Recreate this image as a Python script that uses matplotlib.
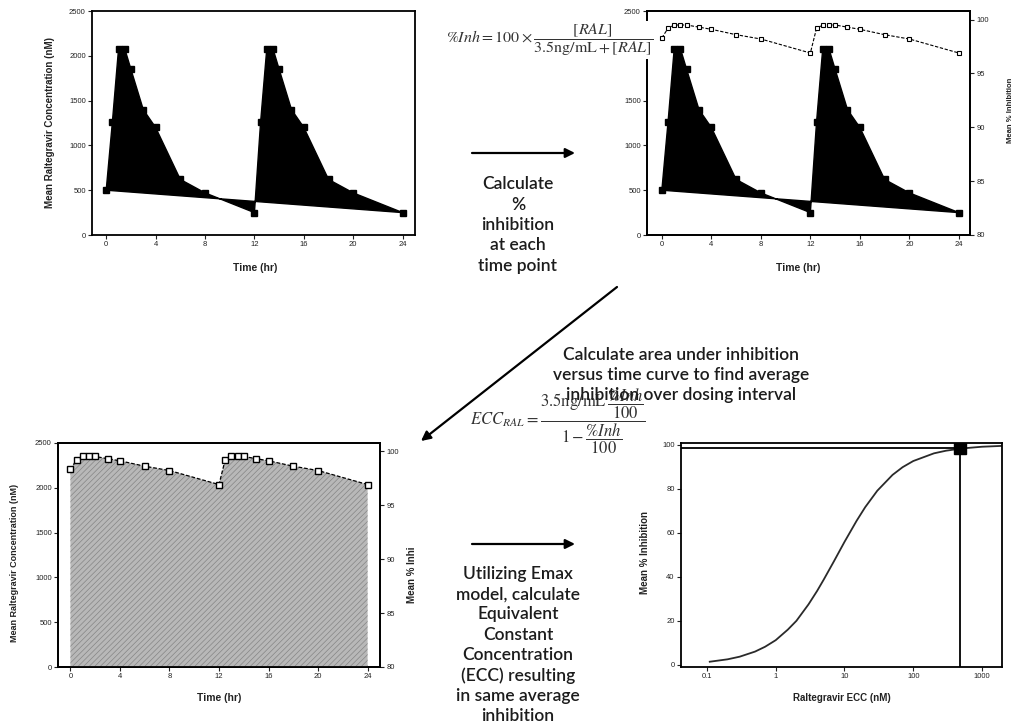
import matplotlib
matplotlib.use("Agg")
import matplotlib.pyplot as plt
from matplotlib.patches import FancyArrowPatch

# sampling times and mean concentrations over two 12 h doses
hours = [0, 0.5, 1, 1.5, 2, 3, 4, 6, 8, 12, 12.5, 13, 13.5, 14, 15, 16, 18, 20, 24]
conc_nM = [500, 1260, 2080, 2080, 1850, 1400, 1200, 620, 470, 250,
           1260, 2080, 2080, 1850, 1400, 1200, 620, 470, 250]
# percent inhibition at each time point
inhib_pct = [98.3, 99.2, 99.5, 99.5, 99.5, 99.3, 99.1, 98.6, 98.2, 96.9,
             99.2, 99.5, 99.5, 99.5, 99.3, 99.1, 98.6, 98.2, 96.9]

# Emax curve
ecc_nM = [0.11, 0.2, 0.3, 0.5, 0.7, 1, 1.5, 2, 3, 4, 5, 7, 10, 15, 20, 30,
          50, 70, 100, 200, 300, 500, 1000, 2000]
ecc_inh = [1.4, 2.5, 3.7, 6.0, 8.2, 11.2, 16, 20, 27.5, 33.6, 38.8, 47, 55.9,
           65.5, 71.7, 79.2, 86.4, 89.9, 92.7, 96.2, 97.4, 98.4, 99.2, 99.6]
ecc_value = 480
avg_inh = 98.5

time_ticks = [0, 4, 8, 12, 16, 20, 24]
conc_ticks = [0, 500, 1000, 1500, 2000, 2500]
inh_ticks = [80, 85, 90, 95, 100]
pct_ticks = [0, 20, 40, 60, 80, 100]
ecc_ticks = [0.1, 1, 10, 100, 1000]
ecc_labels = ["0.1", "1", "10", "100", "1000"]

plt.rcParams["font.family"] = ["Liberation Sans", "DejaVu Sans"]
plt.rcParams["mathtext.fontset"] = "stix"
plt.rcParams["hatch.linewidth"] = 0.5

W, H = 1018, 728
fig = plt.figure(figsize=(W / 100, H / 100), dpi=100)


def rect(left, top, right, bottom):
    return [left / W, 1 - bottom / H, (right - left) / W, (bottom - top) / H]


def fxy(x, y):
    return x / W, 1 - y / H


def style(ax):
    for s in ax.spines.values():
        s.set_linewidth(1.3)
    ax.tick_params(direction="out", length=3, width=0.8, labelsize=5.5,
                   pad=1.5, colors="#222222")


def ylab(ax, text, x, y, size=7):
    ax.set_ylabel(text, fontsize=size, fontweight="bold", va="center", color="#222222")
    ax.yaxis.set_label_coords(*fxy(x, y), transform=fig.transFigure)


def xlab(ax, text, x, y, size=7.5):
    ax.set_xlabel(text, fontsize=size, fontweight="bold", va="center", color="#222222")
    ax.xaxis.set_label_coords(*fxy(x, y), transform=fig.transFigure)


def conc_panel(box):
    ax = fig.add_axes(rect(*box))
    ax.fill(hours, conc_nM, color="k", lw=1)
    ax.plot(hours, conc_nM, "s", color="k", ms=4)
    ax.set_xlim(-1.15, 25)
    ax.set_ylim(0, 2500)
    ax.set_xticks(time_ticks)
    ax.set_yticks(conc_ticks)
    style(ax)
    return ax


# top left: concentration profile
axA = conc_panel((92, 11, 415, 235))
ylab(axA, "Mean Raltegravir Concentration (nM)", 50, 122)
xlab(axA, "Time (hr)", 255, 268)

# top right: concentration plus inhibition
axB = conc_panel((647, 11, 970, 235))
axB.set_xlim(-1.2, 24.9)
axB2 = axB.twinx()
axB2.plot(hours, inhib_pct, ls=(0, (3, 1.5)), lw=0.8, color="k",
          marker="s", ms=3.5, mfc="white", mec="k", mew=0.8)
axB2.set_ylim(80, 100.8)
axB2.set_yticks(inh_ticks)
style(axB2)
ylab(axB2, "Mean % Inhibition", 1010, 110, size=5.5)
xlab(axB, "Time (hr)", 798, 268)

# bottom left: area under inhibition curve
axC = fig.add_axes(rect(58, 443, 380, 667))
axC.set_xlim(-1, 25)
axC.set_ylim(0, 2500)
axC.set_xticks(time_ticks)
axC.set_yticks(conc_ticks)
style(axC)
axC2 = axC.twinx()
axC2.fill_between(hours, inhib_pct, 80, facecolor="#b8b8b8", edgecolor="#858585",
                  hatch="//////", lw=0)
axC2.plot(hours, inhib_pct, ls=(0, (3, 1.5)), lw=0.9, color="k",
          marker="s", ms=5, mfc="white", mec="k", mew=1)
axC2.set_ylim(80, 100.75)
axC2.set_yticks(inh_ticks)
style(axC2)
ylab(axC, "Mean Raltegravir Concentration (nM)", 15, 563, size=6.5)
ylab(axC2, "Mean % Inhi", 412, 575)
xlab(axC, "Time (hr)", 219, 698)

# bottom right: Emax model and ECC
axD = fig.add_axes(rect(681, 443, 1002, 667))
axD.set_xscale("log")
axD.set_xlim(0.042, 1950)
axD.set_ylim(-1, 100.9)
axD.plot(ecc_nM, ecc_inh, color="#2a2a2a", lw=1.3)
axD.hlines(avg_inh, 0.042, ecc_value, color="k", lw=1.3)
axD.vlines(ecc_value, -1, avg_inh, color="k", lw=1.3)
axD.plot([ecc_value], [avg_inh], "s", color="k", ms=8)
axD.set_xticks(ecc_ticks)
axD.set_xticklabels(ecc_labels)
axD.minorticks_off()
axD.set_yticks(pct_ticks)
style(axD)
ylab(axD, "Mean % Inhibition", 645, 553)
xlab(axD, "Raltegravir ECC (nM)", 842, 698, size=7)

# equations
fig.text(*fxy(446, 40), r"$\%Inh=100\times\dfrac{[RAL]}{3.5\mathrm{ng/mL}+[RAL]}$",
         fontsize=11.5, ha="left", va="center", color="#333333",
         bbox=dict(facecolor="white", edgecolor="none", pad=0.5))
fig.text(*fxy(470, 421),
         r"$ECC_{RAL}=\dfrac{3.5\mathrm{ng/mL}\,\dfrac{\%Inh}{100}}{1-\dfrac{\%Inh}{100}}$",
         fontsize=12, ha="left", va="center", color="#333333")

# step descriptions
txt = dict(family=["Lato", "DejaVu Sans"], fontsize=12.5, fontweight="semibold",
           ha="center", va="center", color="#1c1c1c")
fig.text(*fxy(518, 225), "Calculate\n%\ninhibition\nat each\ntime point",
         linespacing=1.34, **txt)
fig.text(*fxy(681, 375), "Calculate area under inhibition\nversus time curve to find average\n"
         "inhibition over dosing interval", linespacing=1.27, **txt)
fig.text(*fxy(518, 645), "Utilizing Emax\nmodel, calculate\nEquivalent\nConstant\n"
         "Concentration\n(ECC) resulting\nin same average\ninhibition",
         linespacing=1.32, **txt)

# arrows between steps
for start, end in [((472, 153), (575, 153)), ((472, 544), (575, 544)),
                   ((617, 287), (421, 441))]:
    fig.add_artist(FancyArrowPatch(fxy(*start), fxy(*end), transform=fig.transFigure,
                                   arrowstyle="-|>", mutation_scale=14, lw=1.6,
                                   color="k", shrinkA=0, shrinkB=0))

fig.savefig("out.png", dpi=100)
